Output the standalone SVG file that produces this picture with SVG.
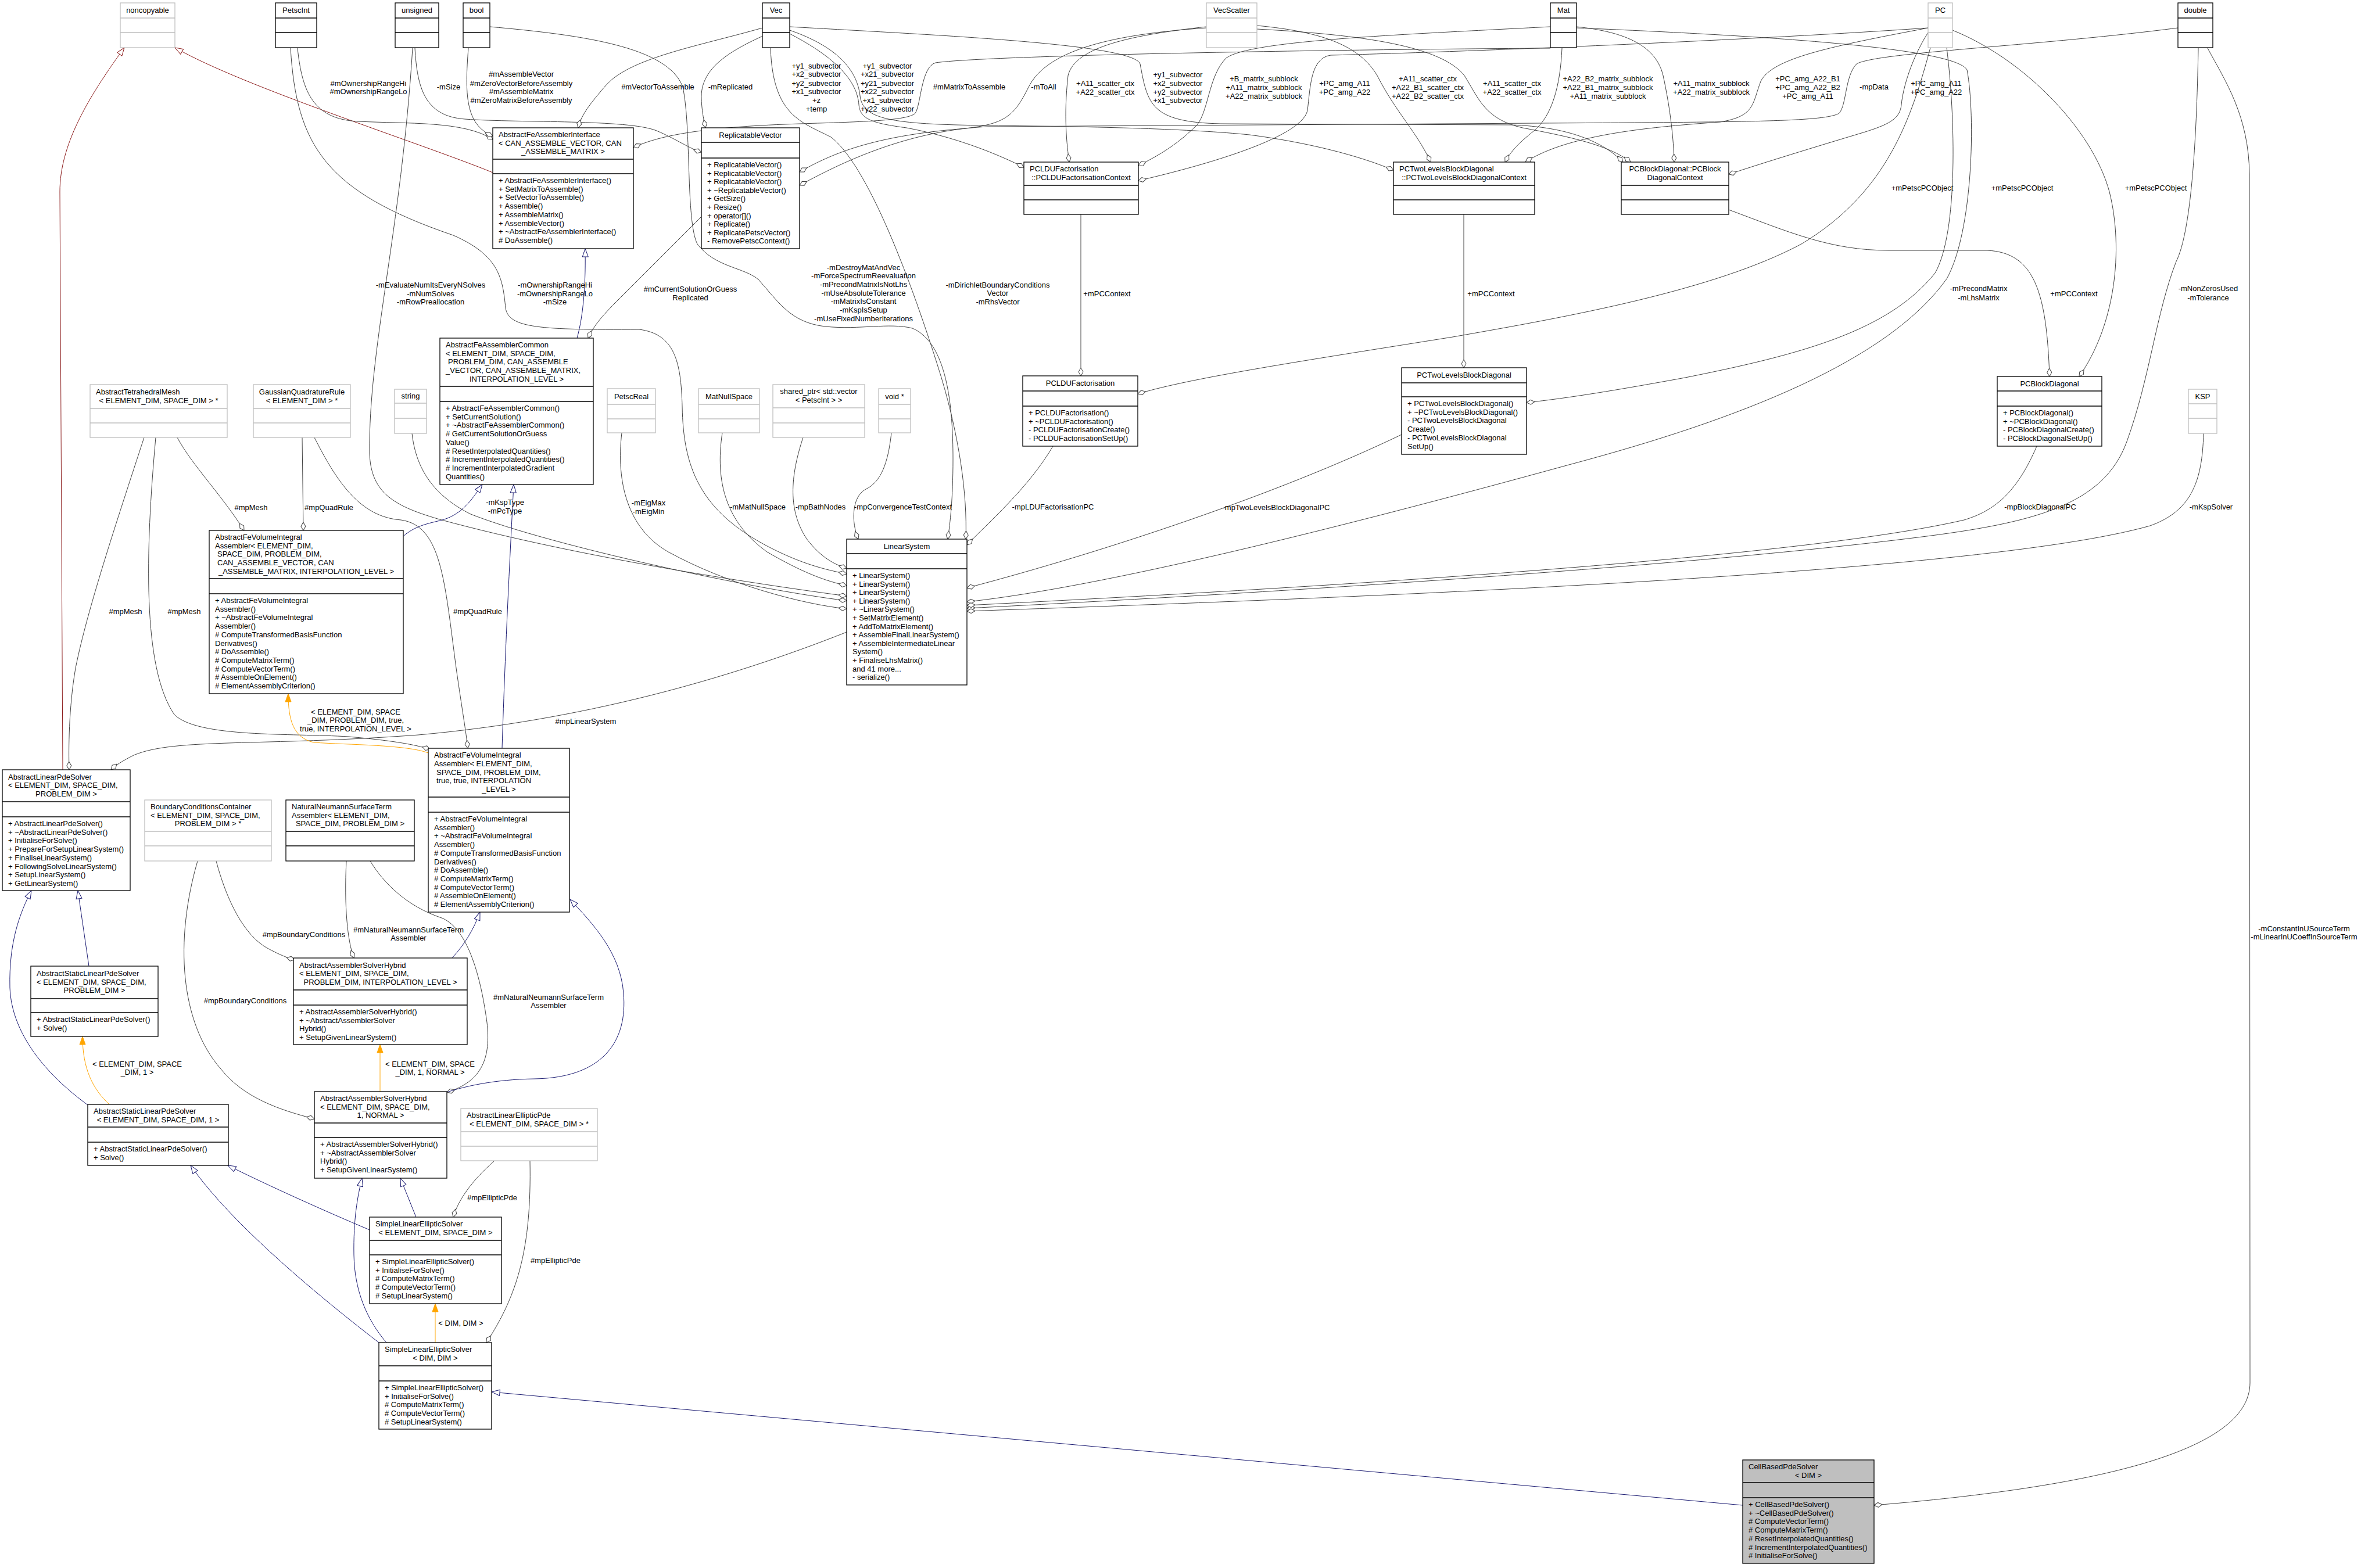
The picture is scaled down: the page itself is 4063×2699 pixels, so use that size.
<svg xmlns="http://www.w3.org/2000/svg" width="4063" height="2699" viewBox="0 0 4063 2699">
<style>
text{font-family:"Liberation Sans",Arial,Helvetica,sans-serif;font-size:13px;fill:#000}
.c{text-anchor:middle}
.bk rect{fill:#fff;stroke:#000;stroke-width:1.3}
.bk path{fill:none;stroke:#000;stroke-width:1.3}
.gr rect{fill:#fff;stroke:#bfbfbf;stroke-width:1.3}
.gr path{fill:none;stroke:#bfbfbf;stroke-width:1.3}
.hl rect{fill:#bfbfbf}
#edges path{fill:none;stroke-width:1}
.u{stroke:#404040;marker-end:url(#dia)}
.i{stroke:#191970;marker-end:url(#tb)}
.p{stroke:#8b1a1a;marker-end:url(#tr)}
.t{stroke:#ffa500;marker-end:url(#to)}
</style>
<defs>
<marker id="dia" markerUnits="userSpaceOnUse" markerWidth="18" markerHeight="12" refX="15" refY="5" orient="auto" overflow="visible"><path d="M1,5 L8,1 L15,5 L8,9 Z" fill="#fff" stroke="#404040" stroke-width="1"/></marker>
<marker id="tb" markerUnits="userSpaceOnUse" markerWidth="18" markerHeight="14" refX="15" refY="6" orient="auto" overflow="visible"><path d="M1,1 L15,6 L1,11 Z" fill="#fff" stroke="#191970" stroke-width="1"/></marker>
<marker id="tr" markerUnits="userSpaceOnUse" markerWidth="18" markerHeight="14" refX="15" refY="6" orient="auto" overflow="visible"><path d="M1,1 L15,6 L1,11 Z" fill="#fff" stroke="#8b1a1a" stroke-width="1"/></marker>
<marker id="to" markerUnits="userSpaceOnUse" markerWidth="18" markerHeight="14" refX="15" refY="6" orient="auto" overflow="visible"><path d="M1,1 L15,6 L1,11 Z" fill="#ffa500" stroke="#ffa500" stroke-width="1"/></marker>
</defs>
<rect x="0" y="0" width="4063" height="2699" fill="#fff"/>

<g id="edges">
<path class="p" d="M848,297 C720,245 420,150 301,82"/>
<path class="p" d="M108,1325 L103,330 C103,250 150,170 214,82"/>
<path class="u" d="M512,83 C520,160 540,205 616,209 C700,213 800,208 848,240"/>
<path class="u" d="M500,83 C510,250 560,330 780,405 C860,440 865,480 870,530 C875,565 930,568 1100,567 C1160,575 1172,620 1174,700 C1176,800 1200,880 1330,945 C1390,975 1430,982 1457,988"/>
<path class="u" d="M714,83 C718,150 730,200 800,205 C900,212 1080,205 1130,225 C1165,240 1185,255 1207,262"/>
<path class="u" d="M710,83 C690,400 634,600 636,780 C638,850 680,872 760,895 C1000,960 1300,1005 1457,1026"/>
<path class="u" d="M806,83 C800,160 800,215 848,234"/>
<path class="u" d="M843,46 C1000,60 1150,80 1175,150 C1190,220 1180,380 1200,420 C1230,460 1280,460 1305,481 C1340,520 1360,555 1420,562 C1480,568 1530,555 1570,565 C1630,590 1640,700 1640,790 C1640,860 1635,900 1631,928"/>
<path class="u" d="M1312,48 C1200,80 1080,100 1040,150 C1010,185 1000,200 995,220"/>
<path class="u" d="M1317,60 C1250,90 1205,120 1207,170 C1208,195 1212,210 1214,220"/>
<path class="u" d="M1326,83 C1330,200 1380,210 1430,236 C1500,290 1580,520 1620,650 C1650,750 1665,850 1662,928"/>
<path class="u" d="M1359,58 C1440,100 1475,140 1478,180 C1480,205 1500,212 1560,220 C1640,235 1710,262 1762,288"/>
<path class="u" d="M1359,52 C1440,80 1475,120 1480,165 C1485,205 1530,214 1700,216 C1900,218 2050,222 2150,232 C2250,245 2340,268 2398,293"/>
<path class="u" d="M1359,46 C1600,60 1950,75 1962,110 C1975,180 1980,210 2100,213 L2600,215 C2700,218 2760,245 2793,279"/>
<path class="u" d="M2076,48 C1900,60 1800,90 1770,150 C1745,200 1730,215 1650,222 C1500,235 1430,265 1376,296"/>
<path class="u" d="M3748,48 C3500,80 3230,90 3195,110 C3175,130 3178,180 3165,195 C3140,210 3000,210 2650,212 L1700,218 C1550,225 1430,290 1376,319"/>
<path class="u" d="M2076,46 C1950,60 1850,80 1838,130 C1830,200 1836,250 1840,279"/>
<path class="u" d="M2163,44 C2280,55 2340,80 2370,130 C2400,190 2440,230 2462,279"/>
<path class="u" d="M2163,50 C2350,60 2480,80 2520,130 C2545,170 2555,205 2620,220 C2700,235 2770,250 2806,279"/>
<path class="u" d="M2668,83 C2300,85 1700,95 1610,108 C1585,115 1585,180 1575,195 C1560,210 1450,210 1350,214 C1200,220 1130,235 1090,254"/>
<path class="u" d="M2668,46 C2400,60 2150,70 2110,100 C2080,130 2080,190 2060,215 C2030,245 2000,265 1959,285"/>
<path class="u" d="M2688,83 C2685,150 2670,200 2640,225 C2615,245 2600,260 2590,279"/>
<path class="u" d="M2713,46 C2800,55 2850,80 2862,130 C2875,190 2880,240 2881,279"/>
<path class="u" d="M2713,48 C3000,60 3360,80 3385,120 C3400,200 3395,400 3350,480 C3250,620 3000,720 2700,800 C2300,910 1900,1010 1664,1036"/>
<path class="u" d="M3318,48 C3000,70 2500,90 2290,95 C2255,100 2255,150 2250,190 C2240,240 2050,290 1959,311"/>
<path class="u" d="M3318,48 C3150,80 3050,100 3030,140 C3015,180 3020,200 2960,210 C2850,218 2700,230 2625,279"/>
<path class="u" d="M3318,56 C3290,100 3275,150 3272,180 C3270,205 3250,215 3200,230 C3100,260 3020,285 2975,300"/>
<path class="u" d="M3322,82 C3290,200 3250,330 3100,420 C2950,500 2700,545 2500,580 C2250,620 2050,650 1958,678"/>
<path class="u" d="M3350,82 C3365,200 3370,400 3330,470 C3250,570 3100,610 2900,650 C2780,672 2700,685 2627,693"/>
<path class="u" d="M3360,52 C3480,100 3600,220 3630,330 C3655,430 3640,560 3578,648"/>
<path class="u" d="M3783,83 C3780,250 3770,400 3745,450 C3710,540 3700,650 3660,760 C3620,870 3500,900 3300,925 C2900,975 2200,1020 1664,1047"/>
<path class="u" d="M3799,83 C3830,140 3870,200 3871,300 L3872,2380 C3872,2500 3600,2560 3225,2591"/>
<path class="u" d="M1860,369 L1860,647"/>
<path class="u" d="M2519,369 L2519,633"/>
<path class="u" d="M2975,361 C3080,400 3150,431 3250,431 L3420,431 C3500,435 3522,500 3527,648"/>
<path class="u" d="M1812,768 C1770,840 1700,900 1664,938"/>
<path class="u" d="M2412,748 C2200,850 1900,950 1664,1012"/>
<path class="u" d="M3505,768 C3470,850 3430,880 3380,895 C3100,960 2300,1010 1664,1042"/>
<path class="u" d="M3792,746 C3790,830 3770,880 3700,905 C3400,990 2300,1030 1664,1052"/>
<path class="u" d="M709,746 C715,800 740,850 810,885 C950,940 1300,1015 1457,1034"/>
<path class="u" d="M1070,745 C1060,830 1080,910 1150,950 C1250,1005 1380,1040 1457,1048"/>
<path class="u" d="M1243,745 C1230,830 1250,900 1320,950 C1380,985 1420,1000 1457,1008"/>
<path class="u" d="M1382,753 C1360,820 1355,880 1390,930 C1410,955 1430,970 1457,978"/>
<path class="u" d="M1534,745 C1528,800 1515,830 1490,842 C1465,855 1465,900 1477,928"/>
<path class="u" d="M1207,373 C1150,430 1100,480 1060,520 C1030,550 1020,565 1012,582"/>
<path class="u" d="M305,753 C330,800 380,850 420,913"/>
<path class="u" d="M520,753 L522,913"/>
<path class="u" d="M541,753 C580,830 620,890 690,895 C760,905 765,1000 785,1150 C795,1220 802,1260 805,1288"/>
<path class="u" d="M268,753 C250,950 245,1150 300,1230 C340,1270 500,1262 600,1268 C680,1275 720,1283 740,1290"/>
<path class="u" d="M248,753 C200,900 150,1050 130,1150 C118,1220 118,1290 119,1325"/>
<path class="u" d="M1457,1088 C1250,1170 1000,1240 720,1265 C450,1285 300,1270 230,1300 C210,1310 198,1318 191,1325"/>
<path class="u" d="M372,1482 C390,1550 420,1610 460,1632 C480,1643 495,1649 507,1652"/>
<path class="u" d="M340,1482 C300,1620 310,1760 380,1840 C420,1890 480,1910 541,1926"/>
<path class="u" d="M596,1482 C592,1560 598,1620 609,1649"/>
<path class="u" d="M637,1482 C660,1520 700,1560 760,1580 C810,1600 830,1700 838,1760 C845,1820 830,1862 769,1880"/>
<path class="u" d="M851,1998 C820,2025 790,2060 780,2095"/>
<path class="u" d="M912,1998 C915,2150 890,2230 837,2311"/>
<path class="i" d="M993,582 C1005,540 1008,480 1007,428"/>
<path class="i" d="M694,923 C720,900 750,900 770,892 C800,880 815,855 830,834"/>
<path class="i" d="M864,1288 C870,1100 878,950 884,834"/>
<path class="i" d="M153,1663 L134,1533"/>
<path class="i" d="M151,1902 C80,1850 20,1780 17,1700 C15,1620 35,1570 54,1533"/>
<path class="i" d="M778,1649 C800,1625 815,1600 826,1570"/>
<path class="i" d="M769,1880 C800,1870 850,1858 920,1857 C1040,1855 1080,1790 1073,1710 C1068,1640 1020,1590 981,1548"/>
<path class="i" d="M716,2095 L689,2028"/>
<path class="i" d="M665,2311 C630,2270 610,2220 609,2160 C608,2100 615,2060 623,2028"/>
<path class="i" d="M636,2117 C560,2085 460,2040 392,2006"/>
<path class="i" d="M652,2311 C560,2240 400,2110 328,2006"/>
<path class="i" d="M2999,2591 L846,2396"/>
<path class="t" d="M737,1296 C700,1282 600,1282 540,1278 C505,1270 496,1240 496,1194"/>
<path class="t" d="M188,1901 C160,1875 142,1840 142,1784"/>
<path class="t" d="M654,1879 L654,1798"/>
<path class="t" d="M749,2311 L749,2244"/>

<text class="c" x="634" y="147.5">#mOwnershipRangeHi</text>
<text class="c" x="634" y="161.5">#mOwnershipRangeLo</text>
<text class="c" x="772" y="153.5">-mSize</text>
<text class="c" x="897" y="131.5">#mAssembleVector</text>
<text class="c" x="897" y="147.5">#mZeroVectorBeforeAssembly</text>
<text class="c" x="897" y="161.5">#mAssembleMatrix</text>
<text class="c" x="897" y="176.5">#mZeroMatrixBeforeAssembly</text>
<text class="c" x="1132" y="153.5">#mVectorToAssemble</text>
<text class="c" x="1257" y="153.5">-mReplicated</text>
<text class="c" x="1405" y="117.5">+y1_subvector</text>
<text class="c" x="1405" y="131.5">+x2_subvector</text>
<text class="c" x="1405" y="147.5">+y2_subvector</text>
<text class="c" x="1405" y="161.5">+x1_subvector</text>
<text class="c" x="1405" y="176.5">+z</text>
<text class="c" x="1405" y="191.5">+temp</text>
<text class="c" x="1527" y="117.5">+y1_subvector</text>
<text class="c" x="1527" y="131.5">+x21_subvector</text>
<text class="c" x="1527" y="147.5">+y21_subvector</text>
<text class="c" x="1527" y="161.5">+x22_subvector</text>
<text class="c" x="1527" y="176.5">+x1_subvector</text>
<text class="c" x="1527" y="191.5">+y22_subvector</text>
<text class="c" x="1668" y="153.5">#mMatrixToAssemble</text>
<text class="c" x="1796" y="153.5">-mToAll</text>
<text class="c" x="1902" y="147.5">+A11_scatter_ctx</text>
<text class="c" x="1902" y="162.5">+A22_scatter_ctx</text>
<text class="c" x="2027" y="132.5">+y1_subvector</text>
<text class="c" x="2027" y="147.5">+x2_subvector</text>
<text class="c" x="2027" y="162.5">+y2_subvector</text>
<text class="c" x="2027" y="176.5">+x1_subvector</text>
<text class="c" x="2175" y="139.5">+B_matrix_subblock</text>
<text class="c" x="2175" y="154.5">+A11_matrix_subblock</text>
<text class="c" x="2175" y="169.5">+A22_matrix_subblock</text>
<text class="c" x="2314" y="147.5">+PC_amg_A11</text>
<text class="c" x="2314" y="162.5">+PC_amg_A22</text>
<text class="c" x="2457" y="139.5">+A11_scatter_ctx</text>
<text class="c" x="2457" y="154.5">+A22_B1_scatter_ctx</text>
<text class="c" x="2457" y="169.5">+A22_B2_scatter_ctx</text>
<text class="c" x="2602" y="147.5">+A11_scatter_ctx</text>
<text class="c" x="2602" y="162.5">+A22_scatter_ctx</text>
<text class="c" x="2767" y="139.5">+A22_B2_matrix_subblock</text>
<text class="c" x="2767" y="154.5">+A22_B1_matrix_subblock</text>
<text class="c" x="2767" y="169.5">+A11_matrix_subblock</text>
<text class="c" x="2945" y="147.5">+A11_matrix_subblock</text>
<text class="c" x="2945" y="162.5">+A22_matrix_subblock</text>
<text class="c" x="3111" y="139.5">+PC_amg_A22_B1</text>
<text class="c" x="3111" y="154.5">+PC_amg_A22_B2</text>
<text class="c" x="3111" y="169.5">+PC_amg_A11</text>
<text class="c" x="3225" y="153.5">-mpData</text>
<text class="c" x="3332" y="147.5">+PC_amg_A11</text>
<text class="c" x="3332" y="162.5">+PC_amg_A22</text>
<text class="c" x="3308" y="327.5">+mPetscPCObject</text>
<text class="c" x="3480" y="327.5">+mPetscPCObject</text>
<text class="c" x="3710" y="327.5">+mPetscPCObject</text>
<text class="c" x="3405" y="500.5">-mPrecondMatrix</text>
<text class="c" x="3405" y="516.5">-mLhsMatrix</text>
<text class="c" x="1905" y="509.5">+mPCContext</text>
<text class="c" x="2566" y="509.5">+mPCContext</text>
<text class="c" x="3569" y="509.5">+mPCContext</text>
<text class="c" x="3800" y="500.5">-mNonZerosUsed</text>
<text class="c" x="3800" y="516.5">-mTolerance</text>
<text class="c" x="741" y="494.5">-mEvaluateNumItsEveryNSolves</text>
<text class="c" x="741" y="509.5">-mNumSolves</text>
<text class="c" x="741" y="523.5">-mRowPreallocation</text>
<text class="c" x="955" y="494.5">-mOwnershipRangeHi</text>
<text class="c" x="955" y="509.5">-mOwnershipRangeLo</text>
<text class="c" x="955" y="523.5">-mSize</text>
<text class="c" x="1188" y="501.5">#mCurrentSolutionOrGuess</text>
<text class="c" x="1188" y="516.5">Replicated</text>
<text class="c" x="1486" y="464.5">-mDestroyMatAndVec</text>
<text class="c" x="1486" y="479.2">-mForceSpectrumReevaluation</text>
<text class="c" x="1486" y="493.9">-mPrecondMatrixIsNotLhs</text>
<text class="c" x="1486" y="508.6">-mUseAbsoluteTolerance</text>
<text class="c" x="1486" y="523.3">-mMatrixIsConstant</text>
<text class="c" x="1486" y="538">-mKspIsSetup</text>
<text class="c" x="1486" y="552.7">-mUseFixedNumberIterations</text>
<text class="c" x="1717" y="494.5">-mDirichletBoundaryConditions</text>
<text class="c" x="1717" y="509.2">Vector</text>
<text class="c" x="1717" y="523.9">-mRhsVector</text>
<text class="c" x="432" y="877.5">#mpMesh</text>
<text class="c" x="566" y="877.5">#mpQuadRule</text>
<text class="c" x="869" y="868.5">-mKspType</text>
<text class="c" x="869" y="883.5">-mPcType</text>
<text class="c" x="1116" y="869.5">-mEigMax</text>
<text class="c" x="1116" y="884.5">-mEigMin</text>
<text class="c" x="1304" y="876.5">-mMatNullSpace</text>
<text class="c" x="1412" y="876.5">-mpBathNodes</text>
<text class="c" x="1554" y="876.5">-mpConvergenceTestContext</text>
<text class="c" x="1812" y="876.5">-mpLDUFactorisationPC</text>
<text class="c" x="2196" y="877.5">-mpTwoLevelsBlockDiagonalPC</text>
<text class="c" x="3511" y="876.5">-mpBlockDiagonalPC</text>
<text class="c" x="3805" y="876.5">-mKspSolver</text>
<text class="c" x="216" y="1056.5">#mpMesh</text>
<text class="c" x="317" y="1056.5">#mpMesh</text>
<text class="c" x="822" y="1056.5">#mpQuadRule</text>
<text class="c" x="612" y="1229.5">&lt; ELEMENT_DIM, SPACE</text>
<text class="c" x="612" y="1244.2">_DIM, PROBLEM_DIM, true,</text>
<text class="c" x="612" y="1258.9">true, INTERPOLATION_LEVEL &gt;</text>
<text class="c" x="1008" y="1245.5">#mpLinearSystem</text>
<text class="c" x="523" y="1612.5">#mpBoundaryConditions</text>
<text class="c" x="703" y="1604.5">#mNaturalNeumannSurfaceTerm</text>
<text class="c" x="703" y="1619.2">Assembler</text>
<text class="c" x="422" y="1726.5">#mpBoundaryConditions</text>
<text class="c" x="944" y="1720.5">#mNaturalNeumannSurfaceTerm</text>
<text class="c" x="944" y="1735.2">Assembler</text>
<text class="c" x="236" y="1835.5">&lt; ELEMENT_DIM, SPACE</text>
<text class="c" x="236" y="1850.2">_DIM, 1 &gt;</text>
<text class="c" x="740" y="1835.5">&lt; ELEMENT_DIM, SPACE</text>
<text class="c" x="740" y="1850.2">_DIM, 1, NORMAL &gt;</text>
<text class="c" x="847" y="2065.5">#mpEllipticPde</text>
<text class="c" x="956" y="2173.5">#mpEllipticPde</text>
<text class="c" x="793" y="2281.5">&lt; DIM, DIM &gt;</text>
<text class="c" x="3965" y="1602.5">-mConstantInUSourceTerm</text>
<text class="c" x="3965" y="1617.2">-mLinearInUCoeffInSourceTerm</text>
</g>

<g id="noncopyable" class="gr"><rect x="207" y="5" width="94" height="77"/><path d="M207,31H301M207,56H301"/><text class="c" x="254" y="21.6">noncopyable</text></g>
<g id="PetscInt" class="bk"><rect x="474" y="5" width="71" height="77"/><path d="M474,31H545M474,56H545"/><text class="c" x="509.5" y="21.6">PetscInt</text></g>
<g id="unsigned" class="bk"><rect x="680" y="5" width="75" height="77"/><path d="M680,31H755M680,56H755"/><text class="c" x="717.5" y="21.6">unsigned</text></g>
<g id="bool" class="bk"><rect x="797" y="5" width="46" height="77"/><path d="M797,31H843M797,56H843"/><text class="c" x="820" y="21.6">bool</text></g>
<g id="Vec" class="bk"><rect x="1312" y="5" width="47" height="77"/><path d="M1312,31H1359M1312,56H1359"/><text class="c" x="1335.5" y="21.6">Vec</text></g>
<g id="VecScatter" class="gr"><rect x="2076" y="5" width="87" height="77"/><path d="M2076,31H2163M2076,56H2163"/><text class="c" x="2119.5" y="21.6">VecScatter</text></g>
<g id="Mat" class="bk"><rect x="2668" y="5" width="45" height="77"/><path d="M2668,31H2713M2668,56H2713"/><text class="c" x="2690.5" y="21.6">Mat</text></g>
<g id="PC" class="gr"><rect x="3318" y="5" width="42" height="77"/><path d="M3318,31H3360M3318,56H3360"/><text class="c" x="3339" y="21.6">PC</text></g>
<g id="double" class="bk"><rect x="3748" y="5" width="60" height="77"/><path d="M3748,31H3808M3748,56H3808"/><text class="c" x="3778" y="21.6">double</text></g>

<g id="AbstractFeAssemblerInterface" class="bk"><rect x="848" y="220" width="242" height="208"/><path d="M848,274H1090M848,299H1090"/>
<text x="858" y="235.8">AbstractFeAssemblerInterface</text><text x="858" y="250.5">&lt; CAN_ASSEMBLE_VECTOR, CAN</text><text class="c" x="969" y="265.2">_ASSEMBLE_MATRIX &gt;</text>
<text x="858" y="315">+ AbstractFeAssemblerInterface()</text><text x="858" y="329.7">+ SetMatrixToAssemble()</text><text x="858" y="344.4">+ SetVectorToAssemble()</text><text x="858" y="359.1">+ Assemble()</text><text x="858" y="373.8">+ AssembleMatrix()</text><text x="858" y="388.5">+ AssembleVector()</text><text x="858" y="403.2">+ ~AbstractFeAssemblerInterface()</text><text x="858" y="417.9"># DoAssemble()</text></g>

<g id="ReplicatableVector" class="bk"><rect x="1207" y="220" width="169" height="208"/><path d="M1207,245H1376M1207,272H1376"/>
<text class="c" x="1291.5" y="236.6">ReplicatableVector</text>
<text x="1217" y="288">+ ReplicatableVector()</text><text x="1217" y="302.6">+ ReplicatableVector()</text><text x="1217" y="317.2">+ ReplicatableVector()</text><text x="1217" y="331.8">+ ~ReplicatableVector()</text><text x="1217" y="346.4">+ GetSize()</text><text x="1217" y="361">+ Resize()</text><text x="1217" y="375.6">+ operator[]()</text><text x="1217" y="390.2">+ Replicate()</text><text x="1217" y="404.8">+ ReplicatePetscVector()</text><text x="1217" y="419.4">- RemovePetscContext()</text></g>

<g id="PCLDUFactorisationContext" class="bk"><rect x="1762" y="279" width="197" height="90"/><path d="M1762,319H1959M1762,344H1959"/><text x="1772" y="295.3">PCLDUFactorisation</text><text class="c" x="1860.5" y="310">::PCLDUFactorisationContext</text></g>
<g id="PCTwoLevelsBlockDiagonalContext" class="bk"><rect x="2398" y="279" width="243" height="90"/><path d="M2398,319H2641M2398,344H2641"/><text x="2408" y="295.3">PCTwoLevelsBlockDiagonal</text><text class="c" x="2519.5" y="310">::PCTwoLevelsBlockDiagonalContext</text></g>
<g id="PCBlockDiagonalContext" class="bk"><rect x="2790" y="279" width="185" height="90"/><path d="M2790,319H2975M2790,344H2975"/><text class="c" x="2882.5" y="295.3">PCBlockDiagonal::PCBlock</text><text class="c" x="2882.5" y="310">DiagonalContext</text></g>

<g id="AbstractTetrahedralMesh" class="gr"><rect x="155" y="662" width="236" height="91"/><path d="M155,703H391M155,728H391"/><text x="165" y="678.8">AbstractTetrahedralMesh</text><text class="c" x="273" y="693.5">&lt; ELEMENT_DIM, SPACE_DIM &gt; *</text></g>
<g id="GaussianQuadratureRule" class="gr"><rect x="436" y="662" width="167" height="91"/><path d="M436,703H603M436,728H603"/><text class="c" x="519.5" y="678.8">GaussianQuadratureRule</text><text class="c" x="519.5" y="693.5">&lt; ELEMENT_DIM &gt; *</text></g>
<g id="string" class="gr"><rect x="679" y="670" width="55" height="76"/><path d="M679,694H734M679,720H734"/><text class="c" x="706.5" y="686">string</text></g>

<g id="AbstractFeAssemblerCommon" class="bk"><rect x="757" y="582" width="264" height="252"/><path d="M757,665H1021M757,691H1021"/>
<text x="767" y="597.8">AbstractFeAssemblerCommon</text><text x="767" y="612.5">&lt; ELEMENT_DIM, SPACE_DIM,</text><text x="771" y="627.2">PROBLEM_DIM, CAN_ASSEMBLE</text><text x="767" y="641.9">_VECTOR, CAN_ASSEMBLE_MATRIX,</text><text class="c" x="889" y="656.6">INTERPOLATION_LEVEL &gt;</text>
<text x="767" y="707">+ AbstractFeAssemblerCommon()</text><text x="767" y="721.7">+ SetCurrentSolution()</text><text x="767" y="736.4">+ ~AbstractFeAssemblerCommon()</text><text x="767" y="751.1"># GetCurrentSolutionOrGuess</text><text x="767" y="765.8">Value()</text><text x="767" y="780.5"># ResetInterpolatedQuantities()</text><text x="767" y="795.2"># IncrementInterpolatedQuantities()</text><text x="767" y="809.9"># IncrementInterpolatedGradient</text><text x="767" y="824.6">Quantities()</text></g>

<g id="PetscReal" class="gr"><rect x="1045" y="669" width="83" height="76"/><path d="M1045,696H1128M1045,721H1128"/><text class="c" x="1086.5" y="686.5">PetscReal</text></g>
<g id="MatNullSpace" class="gr"><rect x="1202" y="669" width="105" height="76"/><path d="M1202,696H1307M1202,721H1307"/><text class="c" x="1254.5" y="686.5">MatNullSpace</text></g>
<g id="shared_ptr" class="gr"><rect x="1330" y="662" width="158" height="91"/><path d="M1330,702H1488M1330,728H1488"/><text class="c" x="1409" y="678.3">shared_ptr&lt; std::vector</text><text class="c" x="1409" y="693">&lt; PetscInt &gt; &gt;</text></g>
<g id="void" class="gr"><rect x="1512" y="669" width="55" height="76"/><path d="M1512,696H1567M1512,721H1567"/><text class="c" x="1539.5" y="686.5">void *</text></g>

<g id="PCLDUFactorisation" class="bk"><rect x="1760" y="647" width="198" height="121"/><path d="M1760,673H1958M1760,699H1958"/><text class="c" x="1859" y="663.6">PCLDUFactorisation</text>
<text x="1770" y="715">+ PCLDUFactorisation()</text><text x="1770" y="729.7">+ ~PCLDUFactorisation()</text><text x="1770" y="744.4">- PCLDUFactorisationCreate()</text><text x="1770" y="759.1">- PCLDUFactorisationSetUp()</text></g>
<g id="PCTwoLevelsBlockDiagonal" class="bk"><rect x="2412" y="633" width="215" height="149"/><path d="M2412,659H2627M2412,683H2627"/><text class="c" x="2519.5" y="649.6">PCTwoLevelsBlockDiagonal</text>
<text x="2422" y="699">+ PCTwoLevelsBlockDiagonal()</text><text x="2422" y="713.7">+ ~PCTwoLevelsBlockDiagonal()</text><text x="2422" y="728.4">- PCTwoLevelsBlockDiagonal</text><text x="2422" y="743.1">Create()</text><text x="2422" y="757.8">- PCTwoLevelsBlockDiagonal</text><text x="2422" y="772.5">SetUp()</text></g>
<g id="PCBlockDiagonal" class="bk"><rect x="3437" y="648" width="180" height="120"/><path d="M3437,673H3617M3437,699H3617"/><text class="c" x="3527" y="664.6">PCBlockDiagonal</text>
<text x="3447" y="715">+ PCBlockDiagonal()</text><text x="3447" y="729.7">+ ~PCBlockDiagonal()</text><text x="3447" y="744.4">- PCBlockDiagonalCreate()</text><text x="3447" y="759.1">- PCBlockDiagonalSetUp()</text></g>
<g id="KSP" class="gr"><rect x="3766" y="670" width="49" height="76"/><path d="M3766,695H3815M3766,720H3815"/><text class="c" x="3790.5" y="686.5">KSP</text></g>

<g id="LinearSystem" class="bk"><rect x="1457" y="928" width="207" height="251"/><path d="M1457,953H1664M1457,979H1664"/><text class="c" x="1560.5" y="944.6">LinearSystem</text>
<text x="1467" y="995">+ LinearSystem()</text><text x="1467" y="1009.6">+ LinearSystem()</text><text x="1467" y="1024.2">+ LinearSystem()</text><text x="1467" y="1038.8">+ LinearSystem()</text><text x="1467" y="1053.4">+ ~LinearSystem()</text><text x="1467" y="1068">+ SetMatrixElement()</text><text x="1467" y="1082.6">+ AddToMatrixElement()</text><text x="1467" y="1097.2">+ AssembleFinalLinearSystem()</text><text x="1467" y="1111.8">+ AssembleIntermediateLinear</text><text x="1467" y="1126.4">System()</text><text x="1467" y="1141">+ FinaliseLhsMatrix()</text><text x="1467" y="1155.6">and 41 more...</text><text x="1467" y="1170.2">- serialize()</text></g>

<g id="AbstractFeVolumeIntegralAssembler" class="bk"><rect x="360" y="913" width="334" height="281"/><path d="M360,996H694M360,1022H694"/>
<text x="370" y="928.8">AbstractFeVolumeIntegral</text><text x="370" y="943.5">Assembler&lt; ELEMENT_DIM,</text><text x="374" y="958.2">SPACE_DIM, PROBLEM_DIM,</text><text x="374" y="972.9">CAN_ASSEMBLE_VECTOR, CAN</text><text class="c" x="527" y="987.6">_ASSEMBLE_MATRIX, INTERPOLATION_LEVEL &gt;</text>
<text x="370" y="1038">+ AbstractFeVolumeIntegral</text><text x="370" y="1052.7">Assembler()</text><text x="370" y="1067.4">+ ~AbstractFeVolumeIntegral</text><text x="370" y="1082.1">Assembler()</text><text x="370" y="1096.8"># ComputeTransformedBasisFunction</text><text x="370" y="1111.5">Derivatives()</text><text x="370" y="1126.2"># DoAssemble()</text><text x="370" y="1140.9"># ComputeMatrixTerm()</text><text x="370" y="1155.6"># ComputeVectorTerm()</text><text x="370" y="1170.3"># AssembleOnElement()</text><text x="370" y="1185"># ElementAssemblyCriterion()</text></g>

<g id="AbstractFeVolumeIntegralAssembler_true" class="bk"><rect x="737" y="1288" width="243" height="282"/><path d="M737,1372H980M737,1398H980"/>
<text x="747" y="1304.3">AbstractFeVolumeIntegral</text><text x="747" y="1319">Assembler&lt; ELEMENT_DIM,</text><text x="751" y="1333.7">SPACE_DIM, PROBLEM_DIM,</text><text x="751" y="1348.4">true, true, INTERPOLATION</text><text class="c" x="858.5" y="1363.1">_LEVEL &gt;</text>
<text x="747" y="1414">+ AbstractFeVolumeIntegral</text><text x="747" y="1428.7">Assembler()</text><text x="747" y="1443.4">+ ~AbstractFeVolumeIntegral</text><text x="747" y="1458.1">Assembler()</text><text x="747" y="1472.8"># ComputeTransformedBasisFunction</text><text x="747" y="1487.5">Derivatives()</text><text x="747" y="1502.2"># DoAssemble()</text><text x="747" y="1516.9"># ComputeMatrixTerm()</text><text x="747" y="1531.6"># ComputeVectorTerm()</text><text x="747" y="1546.3"># AssembleOnElement()</text><text x="747" y="1561"># ElementAssemblyCriterion()</text></g>

<g id="AbstractLinearPdeSolver" class="bk"><rect x="4" y="1325" width="220" height="208"/><path d="M4,1380H224M4,1406H224"/>
<text x="14" y="1341.5">AbstractLinearPdeSolver</text><text x="14" y="1356.2">&lt; ELEMENT_DIM, SPACE_DIM,</text><text class="c" x="114" y="1370.9">PROBLEM_DIM &gt;</text>
<text x="14" y="1422">+ AbstractLinearPdeSolver()</text><text x="14" y="1436.7">+ ~AbstractLinearPdeSolver()</text><text x="14" y="1451.4">+ InitialiseForSolve()</text><text x="14" y="1466.1">+ PrepareForSetupLinearSystem()</text><text x="14" y="1480.8">+ FinaliseLinearSystem()</text><text x="14" y="1495.5">+ FollowingSolveLinearSystem()</text><text x="14" y="1510.2">+ SetupLinearSystem()</text><text x="14" y="1524.9">+ GetLinearSystem()</text></g>

<g id="BoundaryConditionsContainer" class="gr"><rect x="249" y="1377" width="218" height="105"/><path d="M249,1431H467M249,1456H467"/><text x="259" y="1393">BoundaryConditionsContainer</text><text x="259" y="1407.7">&lt; ELEMENT_DIM, SPACE_DIM,</text><text class="c" x="358" y="1422.4">PROBLEM_DIM &gt; *</text></g>
<g id="NaturalNeumannSurfaceTermAssembler" class="bk"><rect x="492" y="1377" width="221" height="105"/><path d="M492,1431H713M492,1456H713"/><text x="502" y="1393">NaturalNeumannSurfaceTerm</text><text x="502" y="1407.7">Assembler&lt; ELEMENT_DIM,</text><text class="c" x="602.5" y="1422.4">SPACE_DIM, PROBLEM_DIM &gt;</text></g>

<g id="AbstractStaticLinearPdeSolver" class="bk"><rect x="53" y="1663" width="219" height="121"/><path d="M53,1719H272M53,1743H272"/><text x="63" y="1680">AbstractStaticLinearPdeSolver</text><text x="63" y="1694.7">&lt; ELEMENT_DIM, SPACE_DIM,</text><text class="c" x="162.5" y="1709.4">PROBLEM_DIM &gt;</text><text x="63" y="1759">+ AbstractStaticLinearPdeSolver()</text><text x="63" y="1773.7">+ Solve()</text></g>

<g id="AbstractAssemblerSolverHybrid" class="bk"><rect x="505" y="1649" width="299" height="149"/><path d="M505,1704H804M505,1730H804"/><text x="515" y="1665.5">AbstractAssemblerSolverHybrid</text><text x="515" y="1680.2">&lt; ELEMENT_DIM, SPACE_DIM,</text><text class="c" x="654.5" y="1694.9">PROBLEM_DIM, INTERPOLATION_LEVEL &gt;</text>
<text x="515" y="1746">+ AbstractAssemblerSolverHybrid()</text><text x="515" y="1760.7">+ ~AbstractAssemblerSolver</text><text x="515" y="1775.4">Hybrid()</text><text x="515" y="1790.1">+ SetupGivenLinearSystem()</text></g>

<g id="AbstractStaticLinearPdeSolver_1" class="bk"><rect x="151" y="1901" width="242" height="105"/><path d="M151,1940H393M151,1966H393"/><text x="161" y="1916.8">AbstractStaticLinearPdeSolver</text><text class="c" x="272" y="1931.5">&lt; ELEMENT_DIM, SPACE_DIM, 1 &gt;</text><text x="161" y="1982">+ AbstractStaticLinearPdeSolver()</text><text x="161" y="1996.7">+ Solve()</text></g>

<g id="AbstractAssemblerSolverHybrid_1_NORMAL" class="bk"><rect x="541" y="1879" width="228" height="149"/><path d="M541,1933H769M541,1958H769"/><text x="551" y="1894.8">AbstractAssemblerSolverHybrid</text><text x="551" y="1909.5">&lt; ELEMENT_DIM, SPACE_DIM,</text><text class="c" x="655" y="1924.2">1, NORMAL &gt;</text>
<text x="551" y="1974">+ AbstractAssemblerSolverHybrid()</text><text x="551" y="1988.7">+ ~AbstractAssemblerSolver</text><text x="551" y="2003.4">Hybrid()</text><text x="551" y="2018.1">+ SetupGivenLinearSystem()</text></g>

<g id="AbstractLinearEllipticPde" class="gr"><rect x="793" y="1908" width="235" height="90"/><path d="M793,1948H1028M793,1973H1028"/><text x="803" y="1924.3">AbstractLinearEllipticPde</text><text class="c" x="910.5" y="1939">&lt; ELEMENT_DIM, SPACE_DIM &gt; *</text></g>

<g id="SimpleLinearEllipticSolver" class="bk"><rect x="636" y="2095" width="227" height="149"/><path d="M636,2135H863M636,2160H863"/><text x="646" y="2111.3">SimpleLinearEllipticSolver</text><text class="c" x="749.5" y="2126">&lt; ELEMENT_DIM, SPACE_DIM &gt;</text>
<text x="646" y="2176">+ SimpleLinearEllipticSolver()</text><text x="646" y="2190.7">+ InitialiseForSolve()</text><text x="646" y="2205.4"># ComputeMatrixTerm()</text><text x="646" y="2220.1"># ComputeVectorTerm()</text><text x="646" y="2234.8"># SetupLinearSystem()</text></g>

<g id="SimpleLinearEllipticSolver_DIM" class="bk"><rect x="652" y="2311" width="194" height="149"/><path d="M652,2351H846M652,2377H846"/><text x="662" y="2327.3">SimpleLinearEllipticSolver</text><text class="c" x="749" y="2342">&lt; DIM, DIM &gt;</text>
<text x="662" y="2393">+ SimpleLinearEllipticSolver()</text><text x="662" y="2407.7">+ InitialiseForSolve()</text><text x="662" y="2422.4"># ComputeMatrixTerm()</text><text x="662" y="2437.1"># ComputeVectorTerm()</text><text x="662" y="2451.8"># SetupLinearSystem()</text></g>

<g id="CellBasedPdeSolver" class="bk hl"><rect x="2999" y="2513" width="226" height="178" style="fill:#bfbfbf"/><path d="M2999,2552H3225M2999,2578H3225"/><text x="3009" y="2528.8">CellBasedPdeSolver</text><text class="c" x="3112" y="2543.5">&lt; DIM &gt;</text>
<text x="3009" y="2594">+ CellBasedPdeSolver()</text><text x="3009" y="2608.7">+ ~CellBasedPdeSolver()</text><text x="3009" y="2623.4"># ComputeVectorTerm()</text><text x="3009" y="2638.1"># ComputeMatrixTerm()</text><text x="3009" y="2652.8"># ResetInterpolatedQuantities()</text><text x="3009" y="2667.5"># IncrementInterpolatedQuantities()</text><text x="3009" y="2682.2"># InitialiseForSolve()</text></g>
</svg>
